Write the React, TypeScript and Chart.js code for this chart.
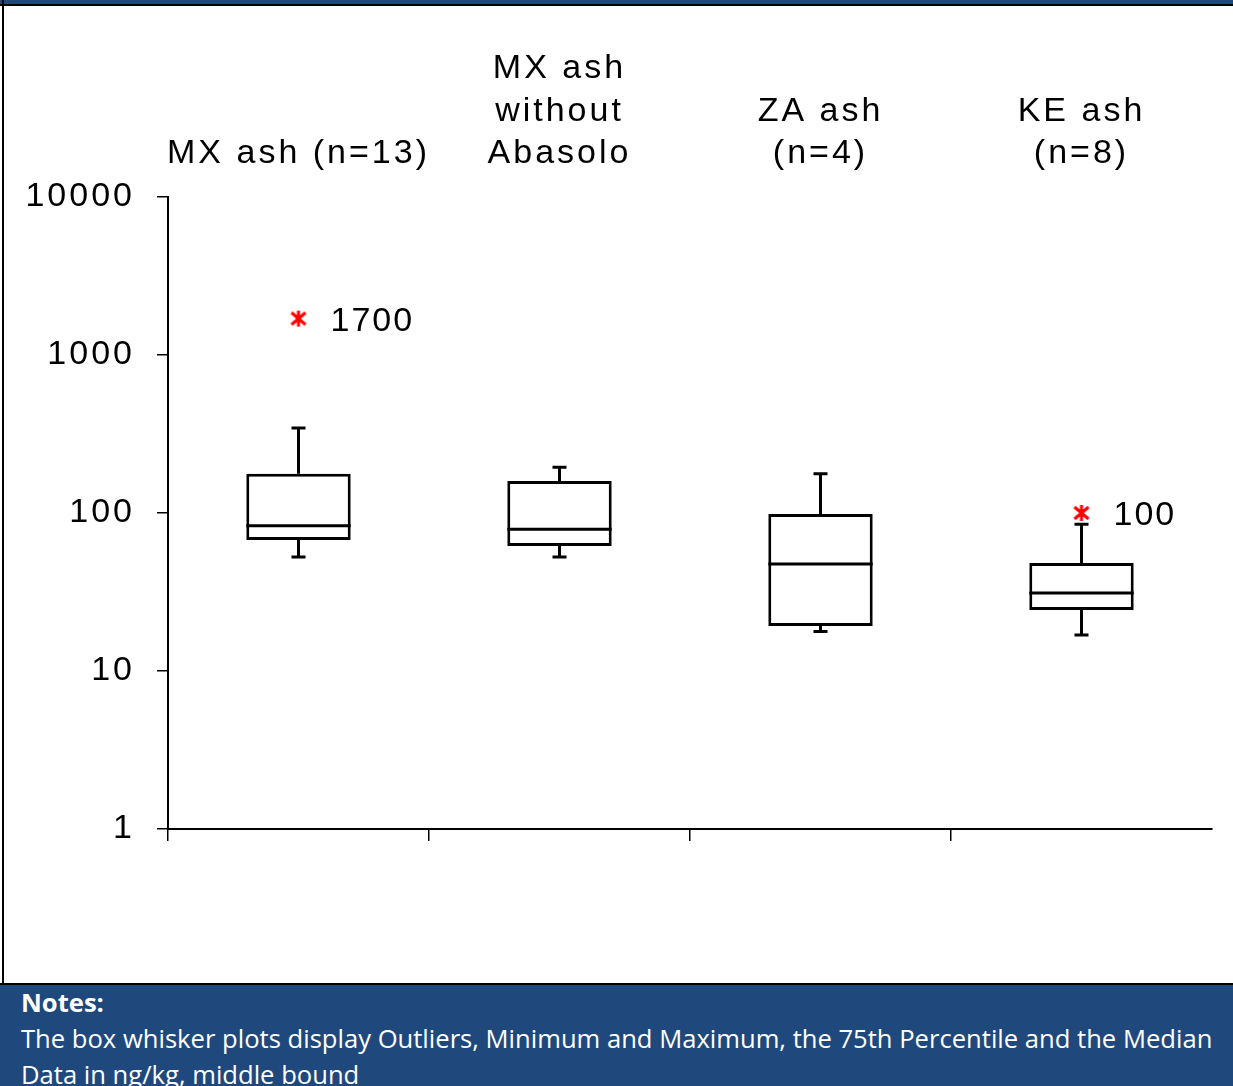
import React, { useEffect, useRef } from 'react';
import { Chart, registerables } from 'chart.js';

Chart.register(...registerables);

// ---- data ----
const categoryLines: string[][] = [
  ['MX ash (n=13)'],
  ['MX ash', 'without', 'Abasolo'],
  ['ZA ash', '(n=4)'],
  ['KE ash', '(n=8)'],
];
const whiskerMin = [52.7, 52.7, 17.8, 16.9];
const q1 = [67.5, 61.8, 19.3, 24.3];
const median = [83, 79, 47.5, 31.2];
const q3 = [177, 159.5, 98.6, 48.3];
const whiskerMax = [345, 195, 177, 85];
const outliers: (number | null)[] = [1700, null, null, 100];
const yTicks = [1, 10, 100, 1000, 10000];

const BLUE = '#1f497d';
const FONT = '"Liberation Sans", Arial, sans-serif';
const SPACING = '3px';

function makeMarker() {
  const c = document.createElement('canvas');
  c.width = 20;
  c.height = 18;
  const g = c.getContext('2d')!;
  g.strokeStyle = '#ff0000';
  g.lineWidth = 3;
  g.beginPath();
  g.moveTo(3, 3);
  g.lineTo(17, 15);
  g.moveTo(17, 3);
  g.lineTo(3, 15);
  g.moveTo(10, 1);
  g.lineTo(10, 17);
  g.stroke();
  return c;
}

const spacingPlugin = {
  id: 'spacing',
  beforeDraw(chart: any) {
    chart.ctx.letterSpacing = SPACING;
  },
};

const boxPlugin = {
  id: 'boxParts',
  beforeDatasetsDraw(chart: any) {
    const ctx = chart.ctx;
    const y = chart.scales.y;
    const meta = chart.getDatasetMeta(1);
    ctx.save();
    ctx.strokeStyle = '#000';
    ctx.lineWidth = 3;
    meta.data.forEach((bar: any, i: number) => {
      const x = bar.x;
      const cap = 7;
      ctx.beginPath();
      ctx.moveTo(x, y.getPixelForValue(q3[i]));
      ctx.lineTo(x, y.getPixelForValue(whiskerMax[i]));
      ctx.moveTo(x - cap, y.getPixelForValue(whiskerMax[i]));
      ctx.lineTo(x + cap, y.getPixelForValue(whiskerMax[i]));
      ctx.moveTo(x, y.getPixelForValue(q1[i]));
      ctx.lineTo(x, y.getPixelForValue(whiskerMin[i]));
      ctx.moveTo(x - cap, y.getPixelForValue(whiskerMin[i]));
      ctx.lineTo(x + cap, y.getPixelForValue(whiskerMin[i]));
      ctx.stroke();
    });
    ctx.restore();
  },
  afterDatasetsDraw(chart: any) {
    const ctx = chart.ctx;
    const y = chart.scales.y;
    const meta = chart.getDatasetMeta(1);
    ctx.save();
    ctx.strokeStyle = '#000';
    ctx.lineWidth = 3;
    meta.data.forEach((bar: any, i: number) => {
      const x = bar.x;
      const w = bar.width;
      const py = y.getPixelForValue(median[i]);
      ctx.beginPath();
      ctx.moveTo(x - w / 2, py);
      ctx.lineTo(x + w / 2, py);
      ctx.stroke();
    });
    ctx.letterSpacing = '2px';
    ctx.fillStyle = '#000';
    ctx.font = `34px ${FONT}`;
    ctx.textAlign = 'left';
    ctx.textBaseline = 'middle';
    meta.data.forEach((bar: any, i: number) => {
      const v = outliers[i];
      if (v == null) return;
      ctx.fillText(String(v), bar.x + 32, y.getPixelForValue(v) + 3);
    });
    ctx.restore();
  },
};

export default function App() {
  const ref = useRef<HTMLCanvasElement>(null);

  useEffect(() => {
    const canvas = ref.current!;
    const marker = makeMarker();
    const chart = new Chart(canvas, {
      type: 'bar',
      data: {
        labels: categoryLines.map((l) => l.join(' ')),
        datasets: [
          {
            type: 'line',
            data: outliers as any,
            showLine: false,
            pointStyle: marker as any,
            pointRadius: 9,
            borderColor: '#ff0000',
            backgroundColor: '#ff0000',
            order: 1,
          } as any,
          {
            type: 'bar',
            data: q1.map((v, i) => [v, q3[i]]) as any,
            backgroundColor: '#ffffff',
            borderColor: '#000000',
            borderWidth: 3,
            borderSkipped: false,
            barPercentage: 0.4,
            categoryPercentage: 1,
            order: 2,
          },
        ],
      },
      options: {
        animation: false,
        responsive: false,
        maintainAspectRatio: false,
        devicePixelRatio: 1,
        layout: { padding: { left: 0, right: 21, top: 0, bottom: 0 } },
        plugins: { legend: { display: false }, tooltip: { enabled: false } },
        scales: {
          x: {
            type: 'category',
            position: 'bottom',
            offset: true,
            ticks: { display: false },
            grid: {
              offset: true,
              drawOnChartArea: false,
              drawTicks: true,
              tickLength: 12,
              lineWidth: 1.5,
              color: (c: any) => (c.type === 'tick' ? '#000' : 'rgba(0,0,0,0)'),
            },
            border: { display: true, color: '#000', width: 2 },
            afterFit: (s: any) => {
              s.height = 153;
            },
          },
          x2: {
            type: 'category',
            position: 'top',
            offset: true,
            labels: categoryLines as any,
            ticks: {
              autoSkip: false,
              maxRotation: 0,
              minRotation: 0,
              padding: 22,
              color: '#000',
              font: { family: FONT, size: 34, lineHeight: 1.25 },
            },
            grid: { display: false, drawTicks: false },
            border: { display: false },
            afterFit: (s: any) => {
              s.height = 191;
            },
          },
          y: {
            type: 'logarithmic',
            min: 1,
            max: 10000,
            afterBuildTicks: (s: any) => {
              s.ticks = yTicks.map((v) => ({ value: v }));
            },
            ticks: {
              padding: 22,
              color: '#000',
              font: { family: FONT, size: 34 },
              callback: (v: any) => String(v),
            },
            grid: {
              drawOnChartArea: false,
              drawTicks: true,
              tickLength: 11,
              lineWidth: 1.5,
              color: '#000',
            },
            border: { display: true, color: '#000', width: 2 },
            afterFit: (s: any) => {
              s.width = 163;
            },
          },
        },
      } as any,
      plugins: [spacingPlugin, boxPlugin],
    });
    return () => chart.destroy();
  }, []);

  return (
    <div
      style={{
        position: 'absolute',
        left: 0,
        top: 0,
        width: 1233,
        height: 1086,
        background: '#fff',
        overflow: 'hidden',
      }}
    >
      <div style={{ position: 'absolute', left: 0, top: 0, width: 1233, height: 4, background: BLUE }} />
      <div style={{ position: 'absolute', left: 0, top: 4, width: 1233, height: 2, background: '#000' }} />
      <div style={{ position: 'absolute', left: 2, top: 0, width: 2, height: 985, background: '#000' }} />
      <div style={{ position: 'absolute', left: 5, top: 6, width: 1228, height: 976 }}>
        <canvas ref={ref} width={1228} height={976} style={{ width: 1228, height: 976, display: 'block' }} />
      </div>
      <div style={{ position: 'absolute', left: 0, top: 983, width: 1233, height: 2, background: '#000' }} />
      <div
        style={{
          position: 'absolute',
          left: 0,
          top: 985,
          width: 1233,
          height: 101,
          background: BLUE,
          color: '#fff',
          fontFamily: '"Open Sans", sans-serif',
          fontSize: 25.6,
          lineHeight: '36px',
          paddingLeft: 21,
          boxSizing: 'border-box',
          whiteSpace: 'nowrap',
        }}
      >
        <div style={{ fontWeight: 700 }}>Notes:</div>
        <div>The box whisker plots display Outliers, Minimum and Maximum, the 75th Percentile and the Median</div>
        <div>Data in ng/kg, middle bound</div>
      </div>
    </div>
  );
}
